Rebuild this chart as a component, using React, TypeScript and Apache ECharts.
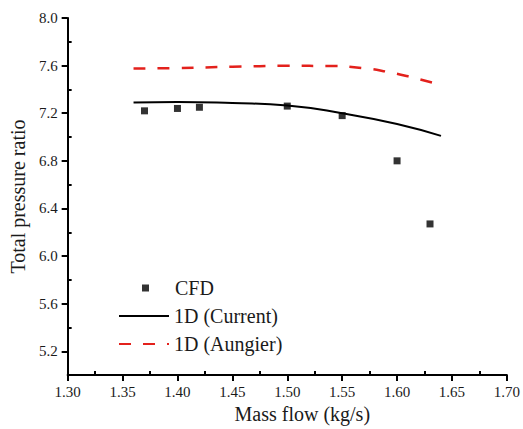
import React, { useEffect, useRef } from "react";
import * as echarts from "echarts";

const massFlowCFD = [1.37, 1.40, 1.42, 1.50, 1.55, 1.60, 1.63];
const prCFD = [7.22, 7.24, 7.25, 7.26, 7.18, 6.80, 6.27];

const massFlowCurrent = [1.36, 1.40, 1.45, 1.50, 1.55, 1.60, 1.64];
const prCurrent = [7.29, 7.295, 7.285, 7.265, 7.20, 7.11, 7.01];

const massFlowAungier = [1.36, 1.40, 1.45, 1.50, 1.54, 1.57, 1.59, 1.61, 1.635];
const prAungier = [7.575, 7.58, 7.59, 7.598, 7.597, 7.578, 7.55, 7.51, 7.45];

const xMajorTicks = [1.30, 1.35, 1.40, 1.45, 1.50, 1.55, 1.60, 1.65, 1.70];
const xMinorTicks = [1.325, 1.375, 1.425, 1.475, 1.525, 1.575, 1.625, 1.675];
const yMajorTicks = [5.2, 5.6, 6.0, 6.4, 6.8, 7.2, 7.6, 8.0];
const yMinorTicks = [5.4, 5.8, 6.2, 6.6, 7.0, 7.4, 7.8];

const seriesNames = ["CFD", "1D (Current)", "1D (Aungier)"];

const FONT = "Liberation Serif";
const INK = "#1a1a1a";

export default function App() {
  const ref = useRef<HTMLDivElement>(null);

  useEffect(() => {
    if (!ref.current) return;
    const chart = echarts.init(ref.current, undefined, { renderer: "svg" });
    const zip = (xs: number[], ys: number[]) => xs.map((x, i) => [x, ys[i]]);
    const axisLine = { show: true, lineStyle: { color: "#000", width: 2 } };
    chart.setOption({
      animation: false,
      backgroundColor: "#fff",
      textStyle: { fontFamily: FONT },
      grid: { left: 66, right: 11, top: 18, bottom: 51, containLabel: false },
      xAxis: [
        {
          type: "value",
          min: 1.3,
          max: 1.7,
          position: "bottom",
          name: "Mass flow (kg/s)",
          nameLocation: "middle",
          nameGap: 18,
          nameTextStyle: { fontFamily: FONT, fontSize: 20, color: INK, padding: [0, 0, 0, 30], verticalAlign: "top" },
          axisLine,
          axisTick: { show: true, customValues: xMajorTicks, length: 6, lineStyle: { color: "#000", width: 2 } },
          axisLabel: {
            customValues: xMajorTicks,
            formatter: (v: number) => v.toFixed(2),
            fontFamily: FONT,
            fontSize: 15,
            color: INK,
            margin: 9,
          },
          splitLine: { show: false },
        },
        {
          type: "value",
          min: 1.3,
          max: 1.7,
          position: "bottom",
          axisLine: { show: false },
          axisTick: { show: true, inside: true, customValues: xMinorTicks, length: 4, lineStyle: { color: "#000", width: 2 } },
          axisLabel: { show: false },
          splitLine: { show: false },
        },
      ],
      yAxis: [
        {
          type: "value",
          min: 5.0,
          max: 8.0,
          position: "left",
          name: "Total pressure ratio",
          nameLocation: "middle",
          nameGap: 38,
          nameRotate: 90,
          nameTextStyle: { fontFamily: FONT, fontSize: 20, color: INK, padding: [0, 0, 0, 0] },
          axisLine,
          axisTick: { show: true, customValues: yMajorTicks, length: 6, lineStyle: { color: "#000", width: 2 } },
          axisLabel: {
            customValues: yMajorTicks,
            formatter: (v: number) => v.toFixed(1),
            fontFamily: FONT,
            fontSize: 15,
            color: INK,
            margin: 10,
          },
          splitLine: { show: false },
        },
        {
          type: "value",
          min: 5.0,
          max: 8.0,
          position: "left",
          axisLine: { show: false },
          axisTick: { show: true, inside: true, customValues: yMinorTicks, length: 4, lineStyle: { color: "#000", width: 2 } },
          axisLabel: { show: false },
          splitLine: { show: false },
        },
      ],
      legend: [
        {
          data: [seriesNames[0]],
          orient: "vertical",
          left: 142,
          top: 278,
          padding: 0,
          icon: "rect",
          itemWidth: 7,
          itemHeight: 7,
          textStyle: { fontFamily: FONT, fontSize: 20, color: INK, padding: [0, 0, 0, 21] },
        },
        {
          data: [seriesNames[1], seriesNames[2]],
          orient: "vertical",
          left: 118,
          top: 306,
          padding: 0,
          itemWidth: 50,
          itemHeight: 14,
          itemGap: 8,
          itemStyle: { opacity: 0 },
          textStyle: { fontFamily: FONT, fontSize: 20, color: INK },
        },
      ],
      series: [
        {
          name: seriesNames[0],
          type: "scatter",
          data: zip(massFlowCFD, prCFD),
          symbol: "rect",
          symbolSize: 7,
          itemStyle: { color: "#000" },
          z: 5,
        },
        {
          name: seriesNames[1],
          type: "line",
          data: zip(massFlowCurrent, prCurrent),
          smooth: true,
          symbol: "none",
          lineStyle: { color: "#000", width: 2 },
          itemStyle: { color: "#000" },
        },
        {
          name: seriesNames[2],
          type: "line",
          data: zip(massFlowAungier, prAungier),
          smooth: true,
          symbol: "none",
          lineStyle: { color: "#e3211c", width: 2.5, type: [12, 12] },
          itemStyle: { color: "#e3211c" },
        },
      ],
    });
    return () => chart.dispose();
  }, []);

  return (
    <div
      ref={ref}
      style={{ position: "fixed", left: 0, top: 0, width: 523, height: 429, background: "#fff" }}
    />
  );
}
